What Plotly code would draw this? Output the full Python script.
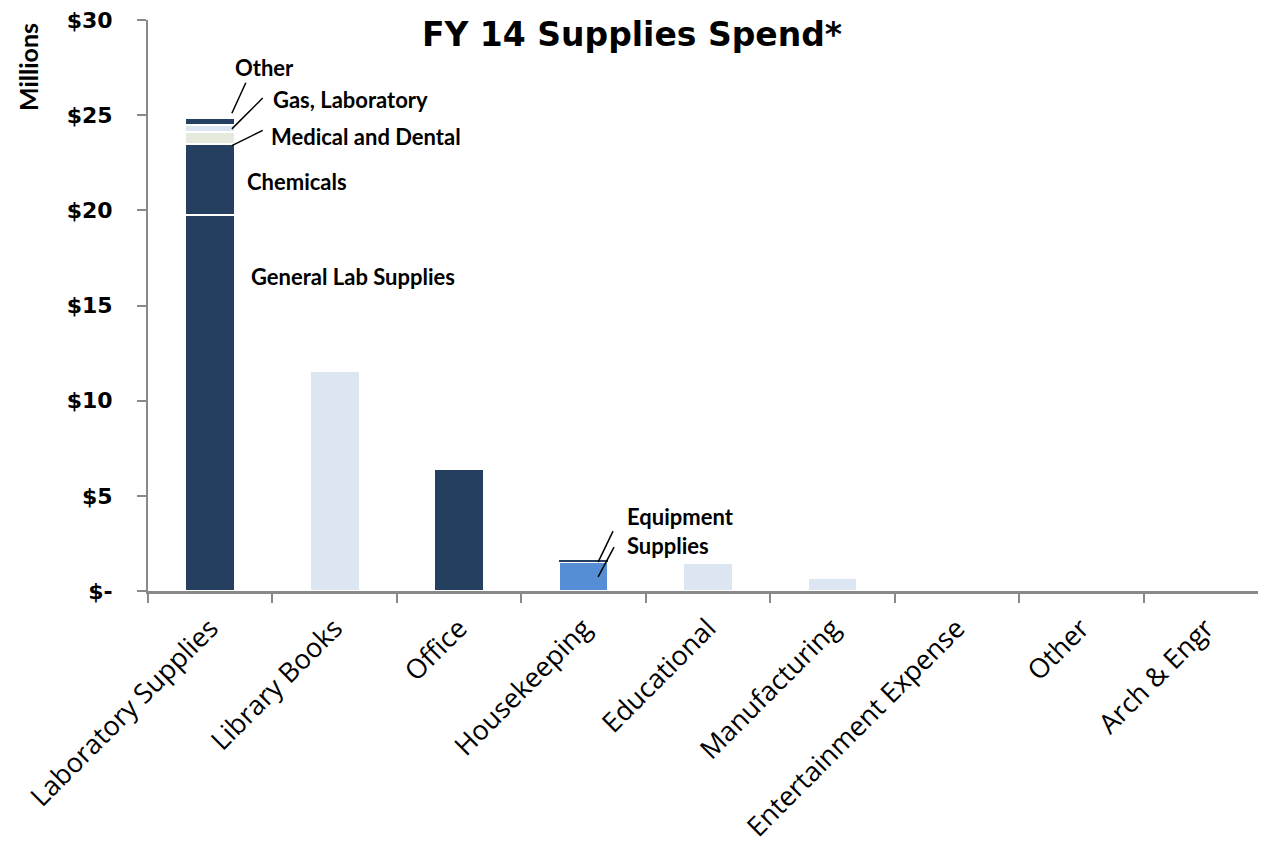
import plotly.graph_objects as go

categories = ["Laboratory Supplies", "Library Books", "Office", "Housekeeping",
              "Educational", "Manufacturing", "Entertainment Expense", "Other", "Arch & Engr"]
# main segment of each bar ($ millions)
primary_values = [19.75, 11.55, 6.40, 1.50, 1.45, 0.70, 0.05, 0.03, 0.02]
primary_colors = ["#243F60", "#DCE6F2", "#243F60", "#558ED5", "#DCE6F2",
                  "#DCE6F2", "#DCE6F2", "#DCE6F2", "#DCE6F2"]

# Laboratory Supplies sub-segments stacked above General Lab Supplies
lab_segments = ["Chemicals", "Medical and Dental", "Gas, Laboratory", "Other"]
lab_values = [3.75, 0.60, 0.40, 0.35]
lab_colors = ["#243F60", "#E4EBDC", "#DCE6F2", "#243F60"]

# Housekeeping: Equipment on top of Supplies
hk_equipment = 0.18

yticks = [0, 5, 10, 15, 20, 25, 30]
yticklabels = ["$-", "$5", "$10", "$15", "$20", "$25", "$30"]

edge = dict(color="white", width=2)

fig = go.Figure()
fig.add_trace(go.Bar(x=categories, y=primary_values, marker=dict(color=primary_colors, line=edge),
                     name="Main"))
for name, v, c in zip(lab_segments, lab_values, lab_colors):
    fig.add_trace(go.Bar(x=[categories[0]], y=[v], marker=dict(color=c, line=edge), name=name))
fig.add_trace(go.Bar(x=[categories[3]], y=[hk_equipment],
                     marker=dict(color="#243F60", line=dict(color="white", width=1)), name="Equipment"))

fig.update_layout(
    barmode="stack", bargap=0.6, showlegend=False,
    width=1266, height=845,
    margin=dict(l=140, r=6, t=12, b=262, autoexpand=False),
    plot_bgcolor="white", paper_bgcolor="white",
    font=dict(family="Lato", color="black"),
    title=dict(text="<b>FY 14 Supplies Spend*</b>", x=624 / 1266, xanchor="center",
               y=1 - 26 / 845, yanchor="middle", xref="container", yref="container",
               font=dict(size=33, family="DejaVu Sans", color="black")),
)
fig.update_yaxes(range=[0, 30], tickvals=yticks, ticktext=yticklabels, automargin=False,
                 tickfont=dict(size=22, family="DejaVu Sans", color="black", weight="bold"),
                 ticklabelstandoff=20, ticklabeloverflow="allow",
                 showgrid=False, zeroline=False, showline=True, linecolor="#898989", linewidth=2,
                 ticks="outside", ticklen=9, tickcolor="#898989", tickwidth=2)
fig.update_xaxes(tickangle=-45, tickfont=dict(size=27, family="Open Sans", color="black"),
                 ticklabelstandoff=8, ticklabeloverflow="allow", automargin=False,
                 showline=True, linecolor="#898989", linewidth=2.5,
                 ticks="outside", tickson="boundaries", ticklen=9, tickcolor="#898989", tickwidth=2)

lbl = dict(size=22, family="Lato", color="black", weight="bold")
labels = [
    ("Other", 0.18, 27.5),
    ("Gas, Laboratory", 0.49, 25.8),
    ("Medical and Dental", 0.47, 23.9),
    ("Chemicals", 0.28, 21.5),
    ("General Lab Supplies", 0.31, 16.5),
    ("Equipment<br>Supplies", 3.33, 3.15),
]
for t, x, y in labels:
    fig.add_annotation(x=x, y=y, xref="x", yref="y", text="<b>" + t + "</b>", showarrow=False,
                       xanchor="left", yanchor="middle", align="left", font=lbl)

leaders = [
    (0.286, 26.7, 0.174, 25.1),
    (0.422, 25.9, 0.174, 24.28),
    (0.422, 24.2, 0.174, 23.4),
    (3.237, 3.15, 3.117, 1.52),
    (3.245, 2.31, 3.117, 0.74),
]
for x0, y0, x1, y1 in leaders:
    fig.add_shape(type="line", xref="x", yref="y", x0=x0, y0=y0, x1=x1, y1=y1,
                  line=dict(color="black", width=1.5))

fig.add_annotation(text="<b>Millions</b>", xref="paper", yref="paper",
                   x=(20 - 140) / 1120, y=(583 - 59) / 571, textangle=-90, showarrow=False,
                   xanchor="center", yanchor="middle", font=dict(size=25, family="Lato", color="black"))

fig.write_html("out.html")
